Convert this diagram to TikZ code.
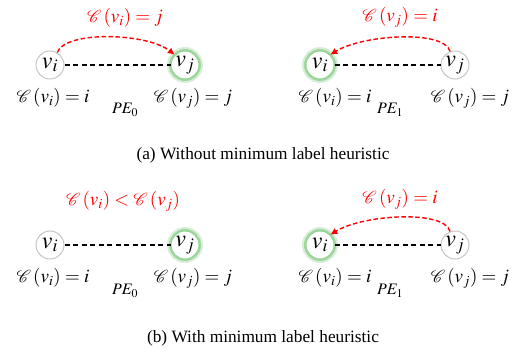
\documentclass[tikz,border=0pt]{standalone}
\usepackage{mathptmx}
\usepackage{mathrsfs}
\usepackage{fontspec}
\setmainfont{Liberation Serif}
\usepackage{tikz}
\usetikzlibrary{
    positioning,
    arrows.meta
}

\begin{document}
\begin{tikzpicture}[
    x=1pt, y=-1pt,
    vertex/.style={
        circle,
        draw=gray!45,
        line width=1pt,
        fill=white,
        minimum size=28pt,
        inner sep=0pt,
        font=\fontsize{24}{24}\selectfont
    },
    owner/.style={
        vertex,
        preaction={draw=green!55!black, line width=8pt, opacity=0.15},
        preaction={draw=green!55!black, line width=4pt, opacity=0.25},
        draw=green!45!gray!60
    },
    lbl/.style={font=\fontsize{19}{21}\selectfont, inner sep=0pt},
    pe/.style={font=\fontsize{16}{18}\selectfont, inner sep=0pt},
    subcap/.style={font=\fontsize{17.3}{20}\selectfont},
    edge/.style={line width=1.2pt, dash pattern=on 5pt off 3.5pt},
    relabel/.style={red, line width=1.4pt, dash pattern=on 4.5pt off 2.5pt, -{Latex[length=7pt,width=7pt]}}
]
\useasboundingbox (0,0) rectangle (526,358);

% (a) without minimum label heuristic
\node[vertex] (ai0) at (50,65) {$v_i$};
\node[owner] (aj0) at (185,65) {$v_j$};
\node[owner] (ai1) at (320,65) {$v_i$};
\node[vertex] (aj1) at (455,65) {$v_j$};

\draw[edge] (ai0) -- (aj0);
\draw[edge] (ai1) -- (aj1);
\draw[relabel] (ai0.60) .. controls +(8,-22) and +(-28,-22) .. (aj0.135);
\draw[relabel] (aj1.110) .. controls +(-6,-22) and +(32,-20) .. (ai1.45);

\node[lbl, red] (ra0) at (125,18) {$\mathscr{C}\,(v_i)=j$};
\node[lbl, red] (ra1) at (400,17) {$\mathscr{C}\,(v_j)=i$};

\node[lbl] (ca0) at (53,98) {$\mathscr{C}\,(v_i)=i$};
\node[lbl] (cb0) at (193,98) {$\mathscr{C}\,(v_j)=j$};
\node[pe] (pa0) at (125,110) {$PE_0$};
\node[lbl] (ca1) at (335,98) {$\mathscr{C}\,(v_i)=i$};
\node[lbl] (cb1) at (470,98) {$\mathscr{C}\,(v_j)=j$};
\node[pe] (pa1) at (390,110) {$PE_1$};

\node[subcap] (capa) at (263,155) {(a) Without minimum label heuristic};

% (b) with minimum label heuristic
\node[vertex] (bi0) at (50,245) {$v_i$};
\node[owner] (bj0) at (185,245) {$v_j$};
\node[owner] (bi1) at (320,245) {$v_i$};
\node[vertex] (bj1) at (455,245) {$v_j$};

\draw[edge] (bi0) -- (bj0);
\draw[edge] (bi1) -- (bj1);
\draw[relabel] (bj1.110) .. controls +(-6,-22) and +(32,-20) .. (bi1.45);

\node[lbl, red] (rb0) at (123,201) {$\mathscr{C}\,(v_i) < \mathscr{C}\,(v_j)$};
\node[lbl, red] (rb1) at (400,199) {$\mathscr{C}\,(v_j)=i$};

\node[lbl] (cc0) at (53,278) {$\mathscr{C}\,(v_i)=i$};
\node[lbl] (cd0) at (193,278) {$\mathscr{C}\,(v_j)=j$};
\node[pe] (pb0) at (125,291) {$PE_0$};
\node[lbl] (cc1) at (335,278) {$\mathscr{C}\,(v_i)=i$};
\node[lbl] (cd1) at (470,278) {$\mathscr{C}\,(v_j)=j$};
\node[pe] (pb1) at (390,291) {$PE_1$};

\node[subcap] (capb) at (263,338) {(b) With minimum label heuristic};

\end{tikzpicture}
\end{document}
